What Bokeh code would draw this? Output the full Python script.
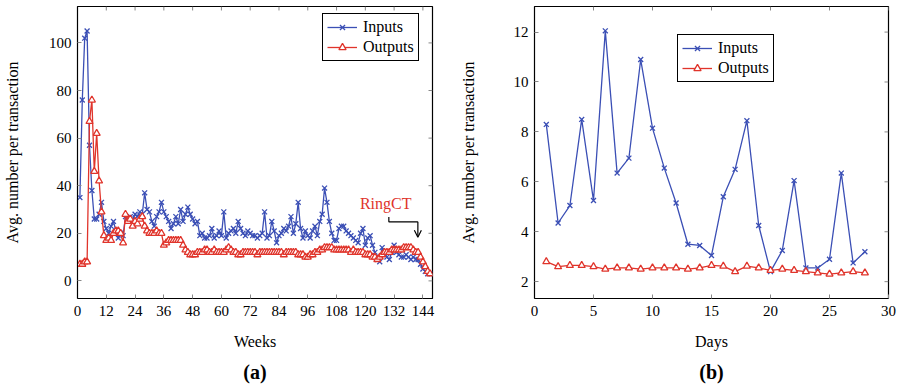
from bokeh.plotting import figure
from bokeh.layouts import row
from bokeh.models import Range1d, FixedTicker, Label, Arrow, OpenHead, Title
from bokeh.embed import file_html
from bokeh.resources import INLINE

# ---------------- data ----------------
weeks = list(range(1, 148))
weekly_inputs = [
    35, 76, 102, 105, 57, 38, 26, 26, 28, 33,
    25, 22, 20, 23, 25, 21, 18, 20, 19, 27,
    26, 27, 26, 28, 27, 29, 28, 37, 30, 29,
    25, 23, 27, 29, 33, 29, 27, 25, 22, 24,
    27, 24, 30, 25, 28, 31, 28, 26, 24, 25,
    19, 20, 18, 18, 19, 22, 18, 19, 21, 19,
    29, 18, 20, 21, 22, 20, 25, 22, 20, 19,
    21, 20, 19, 19, 18, 19, 20, 29, 18, 19,
    25, 21, 16, 19, 20, 22, 21, 23, 27, 20,
    24, 33, 22, 18, 21, 19, 18, 21, 23, 19,
    25, 28, 39, 33, 25, 20, 17, 17, 22, 23,
    23, 21, 20, 19, 18, 17, 16, 20, 22, 15,
    18, 19, 15, 12, 9, 8, 14, 12, 10, 9,
    12, 15, 12, 11, 10, 10, 11, 10, 9, 10,
    9, 9, 7, 5, 4, 3, 3,
]
weekly_outputs = [
    7, 7, 8, 8, 67, 76, 46, 62, 42, 29,
    19, 17, 18, 17, 20, 21, 21, 20, 16, 28,
    25, 26, 23, 25, 24, 26, 27, 23, 21, 20,
    20, 20, 21, 20, 20, 15, 16, 17, 17, 17,
    17, 17, 17, 15, 13, 12, 11, 11, 11, 12,
    12, 12, 13, 13, 12, 12, 13, 12, 12, 12,
    12, 13, 14, 13, 12, 12, 11, 11, 12, 12,
    12, 12, 12, 12, 11, 12, 12, 12, 12, 12,
    12, 12, 12, 12, 12, 11, 12, 12, 12, 12,
    12, 11, 11, 11, 10, 10, 11, 11, 12, 12,
    13, 13, 14, 14, 14, 14, 13, 13, 13, 13,
    13, 13, 13, 12, 13, 12, 12, 12, 12, 11,
    11, 11, 10, 10, 9, 10, 11, 12, 12, 12,
    13, 13, 13, 13, 13, 14, 14, 14, 14, 13,
    12, 12, 10, 8, 6, 4, 3,
]

days = list(range(1, 29))
daily_inputs = [8.3, 4.35, 5.05, 8.5, 5.25, 12.05, 6.35, 6.95, 10.9, 8.15,
                6.55, 5.15, 3.5, 3.45, 3.05, 5.4, 6.5, 8.45, 4.25, 2.4,
                3.25, 6.05, 2.55, 2.55, 2.9, 6.35, 2.75, 3.2]
daily_outputs = [2.8, 2.6, 2.65, 2.65, 2.6, 2.5, 2.55, 2.55, 2.5, 2.55,
                 2.55, 2.55, 2.5, 2.55, 2.65, 2.62, 2.4, 2.62, 2.55, 2.45,
                 2.5, 2.45, 2.4, 2.35, 2.3, 2.35, 2.4, 2.35]

week_ticks = [0, 12, 24, 36, 48, 60, 72, 84, 96, 108, 120, 132, 144]
weekly_yticks = [0, 20, 40, 60, 80, 100]
day_ticks = [0, 5, 10, 15, 20, 25, 30]
daily_yticks = [2, 4, 6, 8, 10, 12]

# RingCT annotation (weeks, value)
ringct_label = "RingCT"
ringct_text_pos = (128.5, 32.5)
ringct_path_x = [129.8, 129.8, 141.9]
ringct_path_y = [26.8, 24.8, 24.8]
ringct_arrow_end = (141.9, 18.3)

BLUE = "#3b4fb5"
RED = "#e0342b"
FONT = "Liberation Serif"
TICK_PX = 4


def make_fig(width, left, right, top, bottom, xr, yr, xticks, yticks, xlabel,
             ylabel_standoff, caption, frame_w, frame_h):
    p = figure(width=width, height=388, x_range=xr, y_range=yr,
               output_backend="svg", toolbar_location=None,
               min_border_left=left, min_border_right=right,
               min_border_top=top, min_border_bottom=bottom)
    p.xgrid.visible = False
    p.ygrid.visible = False
    p.outline_line_color = "black"
    p.outline_line_width = 1.2
    p.outline_line_alpha = 1
    for ax, ticks in ((p.xaxis[0], xticks), (p.yaxis[0], yticks)):
        ax.ticker = FixedTicker(ticks=ticks)
        ax.major_tick_in = TICK_PX
        ax.major_tick_out = 0
        ax.minor_tick_line_color = None
        ax.major_tick_line_color = "#888888"
        ax.axis_line_color = "black"
        ax.major_label_text_font = FONT
        ax.major_label_text_font_size = "15px"
        ax.major_label_text_color = "black"
        ax.axis_label_text_font = FONT
        ax.axis_label_text_font_size = "16px"
        ax.axis_label_text_font_style = "normal"
        ax.axis_label_text_color = "black"
    p.xaxis[0].axis_label = xlabel
    p.xaxis[0].major_label_standoff = 7
    p.xaxis[0].axis_label_standoff = 14
    p.yaxis[0].axis_label = "Avg. number per transaction"
    p.yaxis[0].major_label_standoff = 6
    p.yaxis[0].axis_label_standoff = ylabel_standoff
    # mirrored tick marks on the top and right frame edges
    dx = (xr.end - xr.start) * TICK_PX / frame_w
    dy = (yr.end - yr.start) * TICK_PX / frame_h
    p.segment(x0=xticks, x1=xticks, y0=[yr.end] * len(xticks), y1=[yr.end - dy] * len(xticks),
              line_color="#888888", line_width=1)
    p.segment(x0=[xr.end] * len(yticks), x1=[xr.end - dx] * len(yticks), y0=yticks, y1=yticks,
              line_color="#888888", line_width=1)
    p.add_layout(Title(text=caption, align="center", text_font=FONT,
                       text_font_size="20px", text_font_style="bold",
                       text_color="black", standoff=12), "below")
    return p


def add_series(p, x, yin, yout):
    p.line(x, yin, line_color=BLUE, line_width=1.3, legend_label="Inputs")
    p.scatter(x, yin, marker="x", size=7, line_color=BLUE, line_width=1.3, legend_label="Inputs")
    p.line(x, yout, line_color=RED, line_width=1.3, legend_label="Outputs")
    p.scatter(x, yout, marker="triangle", size=7, line_color=RED, fill_color="white",
              line_width=1.3, legend_label="Outputs")


def style_legend(p, loc):
    lg = p.legend[0]
    lg.location = loc
    lg.border_line_color = "black"
    lg.border_line_width = 1.2
    lg.border_line_alpha = 1
    lg.background_fill_alpha = 1
    lg.label_text_font = FONT
    lg.label_text_font_size = "16px"
    lg.label_text_color = "black"
    lg.glyph_width = 30
    lg.glyph_height = 18
    lg.label_height = 18
    lg.label_standoff = 6
    lg.padding = 4
    lg.spacing = 2
    lg.margin = 0


# ---------------- panel (a) ----------------
pa = make_fig(452, 77, 20, 6, 88, Range1d(0, 148), Range1d(-7.4, 115.3),
              week_ticks, weekly_yticks, "Weeks", 25, "(a)", 355, 294)
add_series(pa, weeks, weekly_inputs, weekly_outputs)
style_legend(pa, (245, 237))
pa.add_layout(Label(x=ringct_text_pos[0], y=ringct_text_pos[1], text=ringct_label,
                    text_align="center", text_baseline="middle", text_font=FONT,
                    text_font_size="16px", text_color=RED))
pa.line(ringct_path_x, ringct_path_y, line_color="black", line_width=1.2)
pa.add_layout(Arrow(end=OpenHead(size=7, line_color="black", line_width=1.2),
                    x_start=ringct_path_x[-1], y_start=ringct_path_y[-1],
                    x_end=ringct_arrow_end[0], y_end=ringct_arrow_end[1],
                    line_color="black", line_width=1.2))

# ---------------- panel (b) ----------------
pb = make_fig(452, 82, 16, 4, 90, Range1d(0, 30), Range1d(1.325, 13.025),
              day_ticks, daily_yticks, "Days", 34, "(b)", 354, 294)
add_series(pb, days, daily_inputs, daily_outputs)
style_legend(pb, (143, 216))

layout = row(pa, pb, spacing=0)
open("out.html", "w").write(file_html(layout, INLINE))
